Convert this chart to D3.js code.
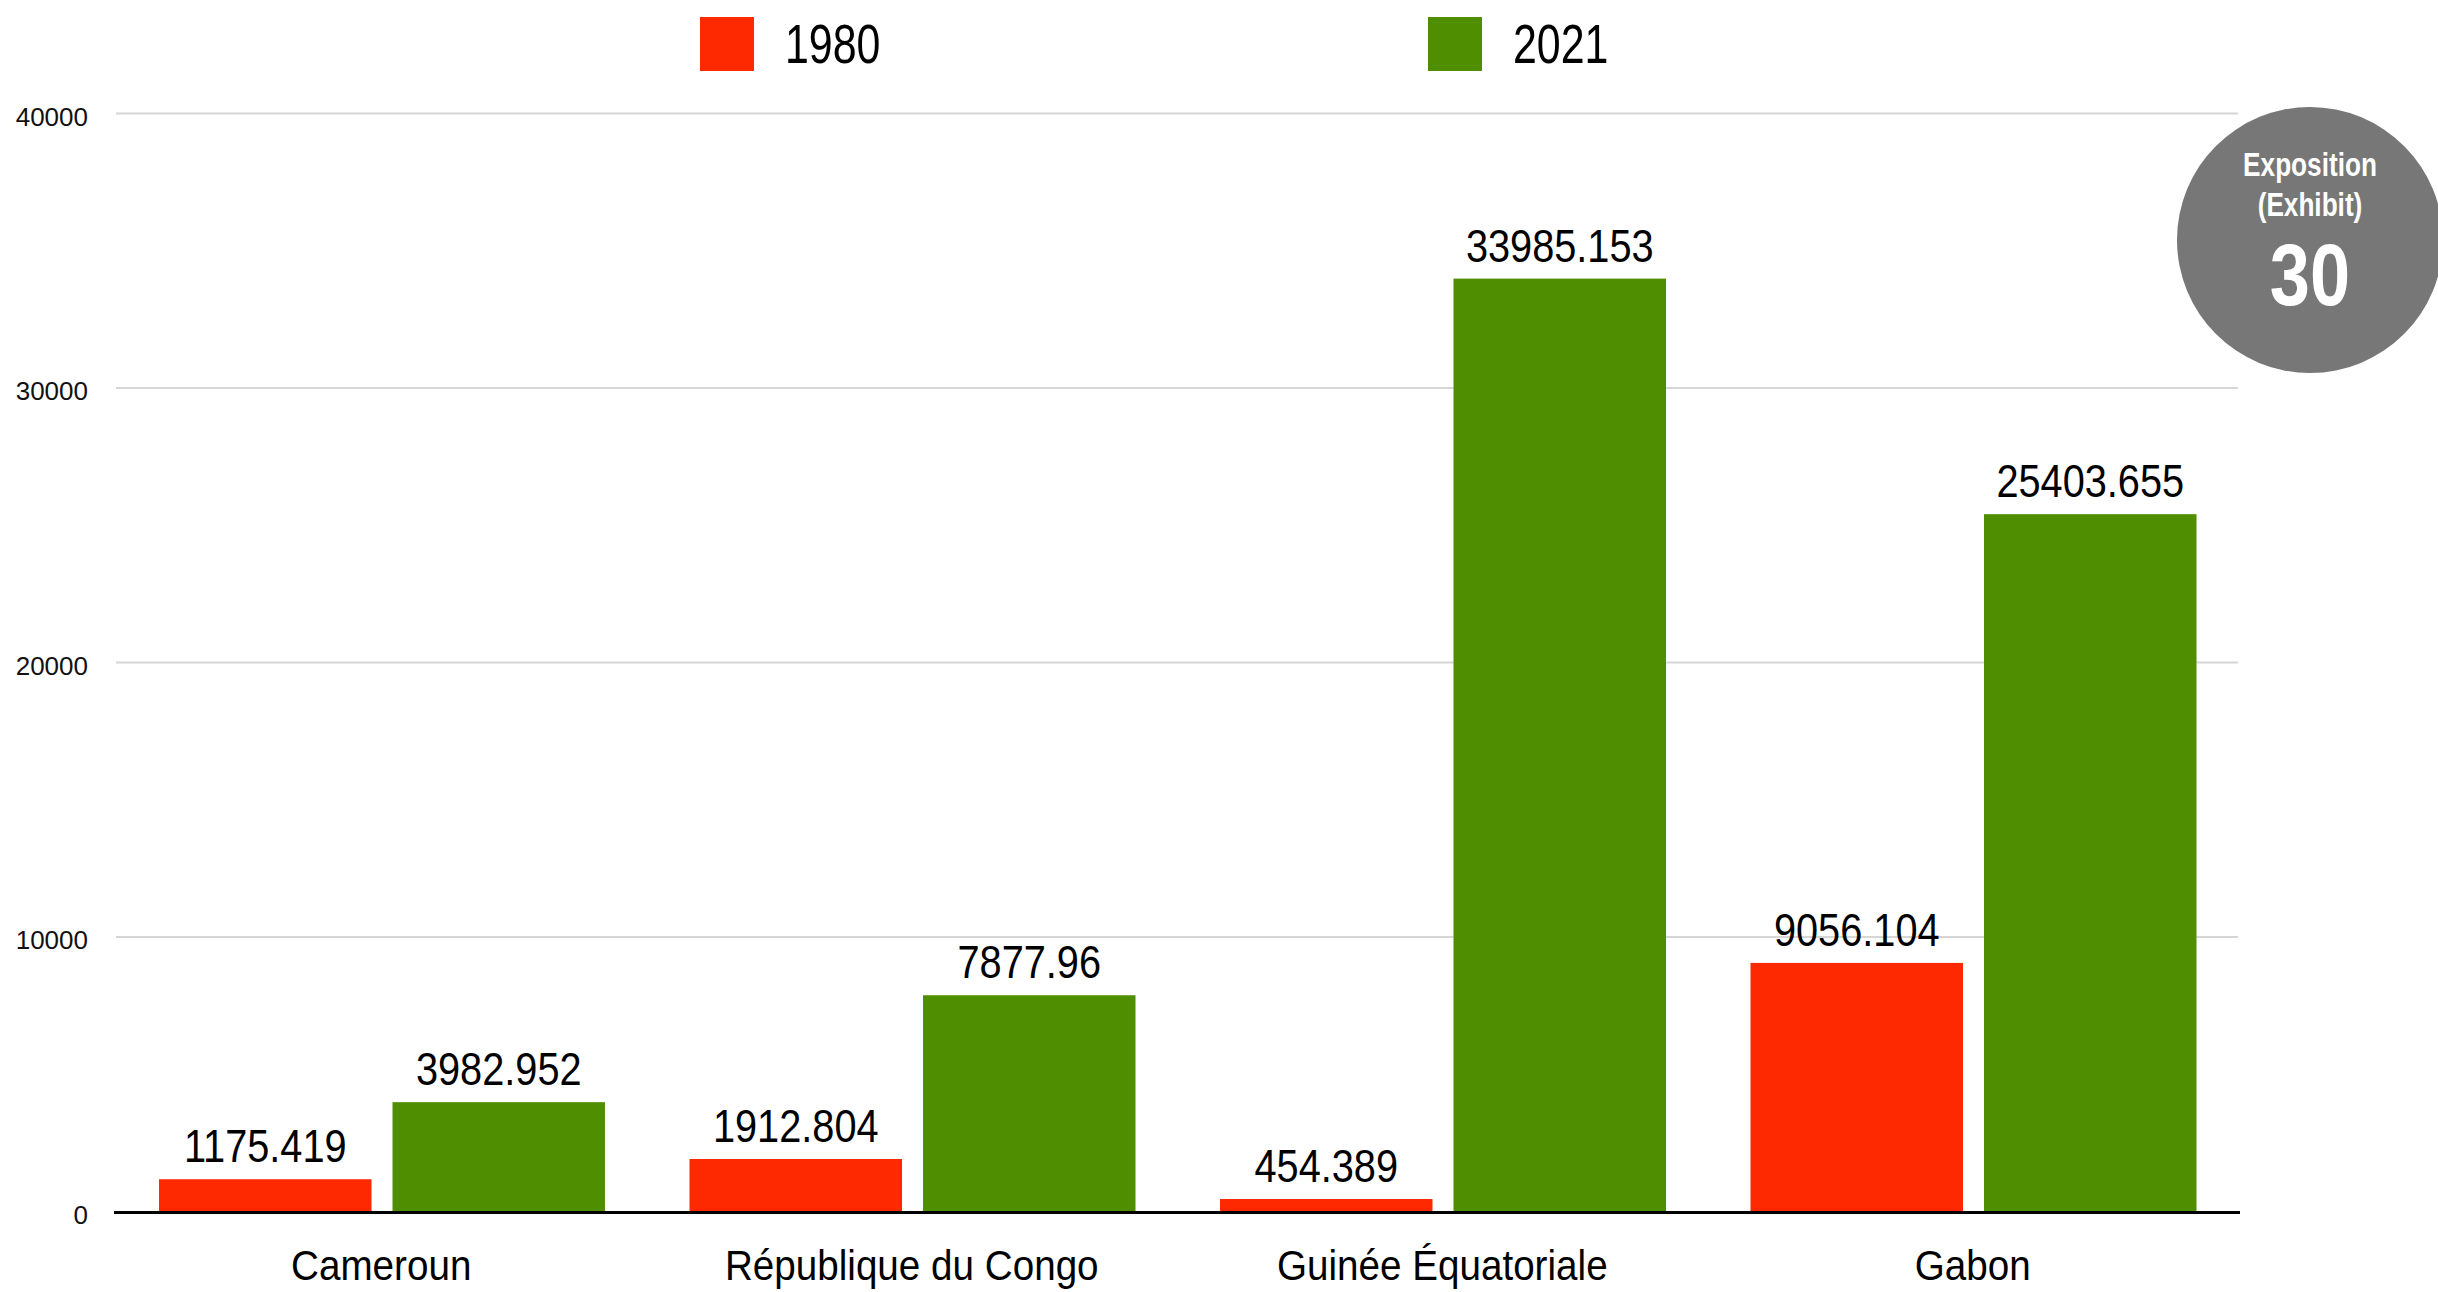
<!DOCTYPE html>
<html>
<head>
<meta charset="utf-8">
<script src="https://cdn.jsdelivr.net/npm/d3@7"></script>
<style>
  html, body { margin: 0; padding: 0; background: #fff; }
  svg { display: block; }
  text { font-family: "Liberation Sans", Arial, Helvetica, sans-serif; }
</style>
</head>
<body>
<svg id="chart" width="2438" height="1292"></svg>
<script>
const categories = ["Cameroun", "République du Congo", "Guinée Équatoriale", "Gabon"];
const seriesNames = ["1980", "2021"];
const values1980 = [1175.419, 1912.804, 454.389, 9056.104];
const values2021 = [3982.952, 7877.96, 33985.153, 25403.655];
const seriesColors = ["#ff2900", "#4e8e00"];
const yTicks = [0, 10000, 20000, 30000, 40000];
const badgeLines = ["Exposition", "(Exhibit)", "30"];

const svg = d3.select("#chart");
const plot = { left: 116, right: 2238, top: 113.5, bottom: 1211.5 };

const x0 = d3.scaleBand().domain(categories).range([plot.left, plot.right]).paddingInner(0).paddingOuter(0);
const x1 = d3.scaleBand().domain(seriesNames).range([43, x0.bandwidth() - 41.5]).paddingInner(0.09).paddingOuter(0);
const y = d3.scaleLinear().domain([0, 40000]).range([plot.bottom, plot.top]);

const data = categories.map((c, i) => ({
  cat: c,
  vals: [
    { s: seriesNames[0], v: values1980[i], color: seriesColors[0] },
    { s: seriesNames[1], v: values2021[i], color: seriesColors[1] }
  ]
}));

// gridlines
svg.append("g").selectAll("line").data(yTicks.filter(t => t !== 0)).join("line")
  .attr("x1", plot.left).attr("x2", plot.right)
  .attr("y1", d => y(d)).attr("y2", d => y(d))
  .attr("stroke", "#d6d6d6").attr("stroke-width", 2);

// y-axis labels
const yAxis = d3.axisLeft(y).tickValues(yTicks).tickSize(0).tickPadding(0).tickFormat(d3.format("d"));
const yg = svg.append("g").attr("transform", `translate(88,0)`).call(yAxis);
yg.select(".domain").remove();
yg.selectAll("text").attr("font-size", 26).attr("fill", "#111")
  .attr("font-family", "'Liberation Sans', Arial, sans-serif")
  .attr("dy", "0.45em").attr("text-anchor", "end").attr("x", 0);

// bars
const groups = svg.append("g").selectAll("g").data(data).join("g")
  .attr("transform", d => `translate(${x0(d.cat)},0)`);

groups.selectAll("rect").data(d => d.vals).join("rect")
  .attr("x", d => x1(d.s))
  .attr("width", x1.bandwidth())
  .attr("y", d => y(d.v))
  .attr("height", d => y(0) - y(d.v))
  .attr("fill", d => d.color);

// value labels
groups.selectAll("text.val").data(d => d.vals).join("text")
  .attr("class", "val")
  .attr("transform", d => `translate(${x1(d.s) + x1.bandwidth() / 2},${y(d.v) - 17}) scale(0.845,1)`)
  .attr("text-anchor", "middle")
  .attr("font-size", 47)
  .attr("fill", "#000")
  .text(d => String(d.v));

// zero axis
svg.append("line")
  .attr("x1", plot.left - 2).attr("x2", plot.right + 2)
  .attr("y1", y(0) + 1).attr("y2", y(0) + 1)
  .attr("stroke", "#000").attr("stroke-width", 3);

// category labels
const xAxis = d3.axisBottom(x0).tickSize(0).tickPadding(0);
const xg = svg.append("g").attr("transform", `translate(0,${y(0)})`).call(xAxis);
xg.select(".domain").remove();
xg.selectAll(".tick text")
  .attr("font-size", 42).attr("fill", "#000")
  .attr("font-family", "'Liberation Sans', Arial, sans-serif")
  .attr("y", 0).attr("dy", 0)
  .attr("transform", "translate(0,68) scale(0.92,1)");

// legend
const legendX = [700, 1428];
const leg = svg.append("g").selectAll("g").data(seriesNames).join("g")
  .attr("transform", (d, i) => `translate(${legendX[i]},17)`);
leg.append("rect").attr("width", 54).attr("height", 54).attr("fill", (d, i) => seriesColors[i]);
leg.append("text")
  .attr("transform", "translate(85,46) scale(0.78,1)")
  .attr("font-size", 55).attr("fill", "#000")
  .text(d => d);

// badge
const badge = svg.append("g").attr("transform", "translate(2310,240)");
badge.append("circle").attr("r", 133).attr("fill", "#777777");
badge.append("text").attr("transform", "translate(0,-64) scale(0.77,1)")
  .attr("text-anchor", "middle").attr("font-size", 34).attr("font-weight", "bold").attr("fill", "#fff")
  .text(badgeLines[0]);
badge.append("text").attr("transform", "translate(0,-24) scale(0.77,1)")
  .attr("text-anchor", "middle").attr("font-size", 34).attr("font-weight", "bold").attr("fill", "#fff")
  .text(badgeLines[1]);
badge.append("text").attr("transform", "translate(0,65) scale(0.82,1)")
  .attr("text-anchor", "middle").attr("font-size", 88).attr("font-weight", "bold").attr("fill", "#fff")
  .text(badgeLines[2]);
</script>
</body>
</html>
